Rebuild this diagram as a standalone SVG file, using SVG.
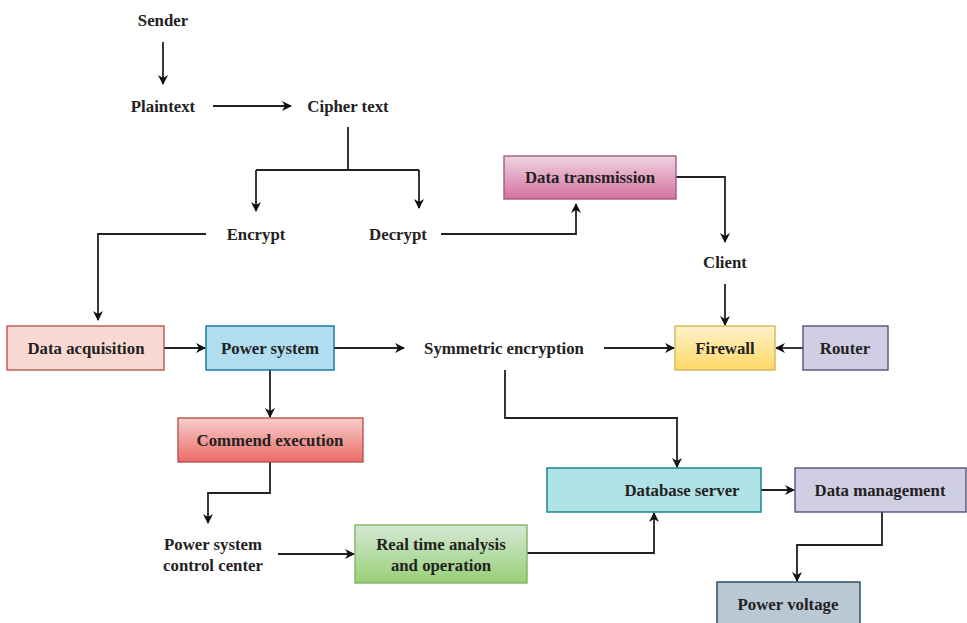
<svg xmlns="http://www.w3.org/2000/svg" width="967" height="623" viewBox="0 0 967 623">
<style>
text{font-family:"Liberation Serif","Times New Roman",serif;font-weight:bold;font-size:16.8px;fill:#222;text-anchor:middle;dominant-baseline:central}
.c{fill:none;stroke:#222;stroke-width:1.8}
.b{stroke-width:1.4}
</style>
<defs>
<marker id="ah" viewBox="0 0 10 10" refX="9" refY="5" markerWidth="10" markerHeight="10" markerUnits="userSpaceOnUse" orient="auto">
<path d="M0,0 L10,5 L0,10 L3,5 Z" fill="#111"/>
</marker>
<linearGradient id="gRed" x1="0" y1="0" x2="0" y2="1"><stop offset="0" stop-color="#f8cecc"/><stop offset="1" stop-color="#ea6b66"/></linearGradient>
<linearGradient id="gPink" x1="0" y1="0" x2="0" y2="1"><stop offset="0" stop-color="#eed3e2"/><stop offset="1" stop-color="#d6729c"/></linearGradient>
<linearGradient id="gYel" x1="0" y1="0" x2="0" y2="1"><stop offset="0" stop-color="#fff2cc"/><stop offset="1" stop-color="#ffd966"/></linearGradient>
<linearGradient id="gGrn" x1="0" y1="0" x2="0" y2="1"><stop offset="0" stop-color="#d5e8d4"/><stop offset="1" stop-color="#97d077"/></linearGradient>
</defs>
<rect width="967" height="623" fill="#fff"/>
<g id="connectors">
<path class="c" d="M163,42 V84" marker-end="url(#ah)"/>
<path class="c" d="M213,106 H291" marker-end="url(#ah)"/>
<path class="c" d="M348,127 V170 M256,170 H419"/>
<path class="c" d="M256,170 V211" marker-end="url(#ah)"/>
<path class="c" d="M419,170 V208" marker-end="url(#ah)"/>
<path class="c" d="M206,234 H98 V320" marker-end="url(#ah)"/>
<path class="c" d="M441,234 H576 V204" marker-end="url(#ah)"/>
<path class="c" d="M676,177 H725 V242" marker-end="url(#ah)"/>
<path class="c" d="M725,284 V325" marker-end="url(#ah)"/>
<path class="c" d="M803,348 H776" marker-end="url(#ah)"/>
<path class="c" d="M604,348 H674" marker-end="url(#ah)"/>
<path class="c" d="M164,348 H205" marker-end="url(#ah)"/>
<path class="c" d="M334,348 H404" marker-end="url(#ah)"/>
<path class="c" d="M270,370 V417" marker-end="url(#ah)"/>
<path class="c" d="M270,462 V493 H208 V523" marker-end="url(#ah)"/>
<path class="c" d="M278,554 H354" marker-end="url(#ah)"/>
<path class="c" d="M505,370 V418 H677 V467" marker-end="url(#ah)"/>
<path class="c" d="M527,553 H654 V513" marker-end="url(#ah)"/>
<path class="c" d="M761,490 H794" marker-end="url(#ah)"/>
<path class="c" d="M882,512 V545 H797 V581" marker-end="url(#ah)"/>
</g>
<g id="sender"><text x="163" y="20">Sender</text></g>
<g id="plaintext"><text x="163" y="106">Plaintext</text></g>
<g id="ciphertext"><text x="348" y="106">Cipher text</text></g>
<g id="encrypt"><text x="256" y="234">Encrypt</text></g>
<g id="decrypt"><text x="398" y="234">Decrypt</text></g>
<g id="datatransmission"><rect class="b" x="504" y="156" width="172" height="43" fill="url(#gPink)" stroke="#a05c85"/><text x="590" y="177">Data transmission</text></g>
<g id="client"><text x="725" y="262">Client</text></g>
<g id="dataacquisition"><rect class="b" x="7" y="326" width="157" height="44" fill="#fad9d3" stroke="#b85450"/><text x="86" y="348">Data acquisition</text></g>
<g id="powersystem"><rect class="b" x="206" y="326" width="128" height="44" fill="#b1ddf0" stroke="#10739e"/><text x="270" y="348">Power system</text></g>
<g id="symmetric"><text x="504" y="348">Symmetric encryption</text></g>
<g id="firewall"><rect class="b" x="675" y="326" width="100" height="44" fill="url(#gYel)" stroke="#d6b656"/><text x="725" y="348">Firewall</text></g>
<g id="router"><rect class="b" x="803" y="326" width="85" height="44" fill="#d0cee2" stroke="#56517e"/><text x="845" y="348">Router</text></g>
<g id="commend"><rect class="b" x="178" y="418" width="185" height="44" fill="url(#gRed)" stroke="#b85450"/><text x="270" y="440">Commend execution</text></g>
<g id="databaseserver"><rect class="b" x="547" y="468" width="214" height="44" fill="#b0e3e6" stroke="#0e8088"/><text x="682" y="490">Database server</text></g>
<g id="datamanagement"><rect class="b" x="795" y="468" width="171" height="44" fill="#d0cee2" stroke="#56517e"/><text x="880" y="490">Data management</text></g>
<g id="controlcenter"><text x="213" y="544">Power system</text><text x="213" y="565">control center</text></g>
<g id="realtime"><rect class="b" x="355" y="525" width="172" height="58" fill="url(#gGrn)" stroke="#82b366"/><text x="441" y="544">Real time analysis</text><text x="441" y="565">and operation</text></g>
<g id="powervoltage"><rect class="b" x="717" y="582" width="143" height="50" fill="#bac8d3" stroke="#23445d"/><text x="788" y="604">Power voltage</text></g>
</svg>
